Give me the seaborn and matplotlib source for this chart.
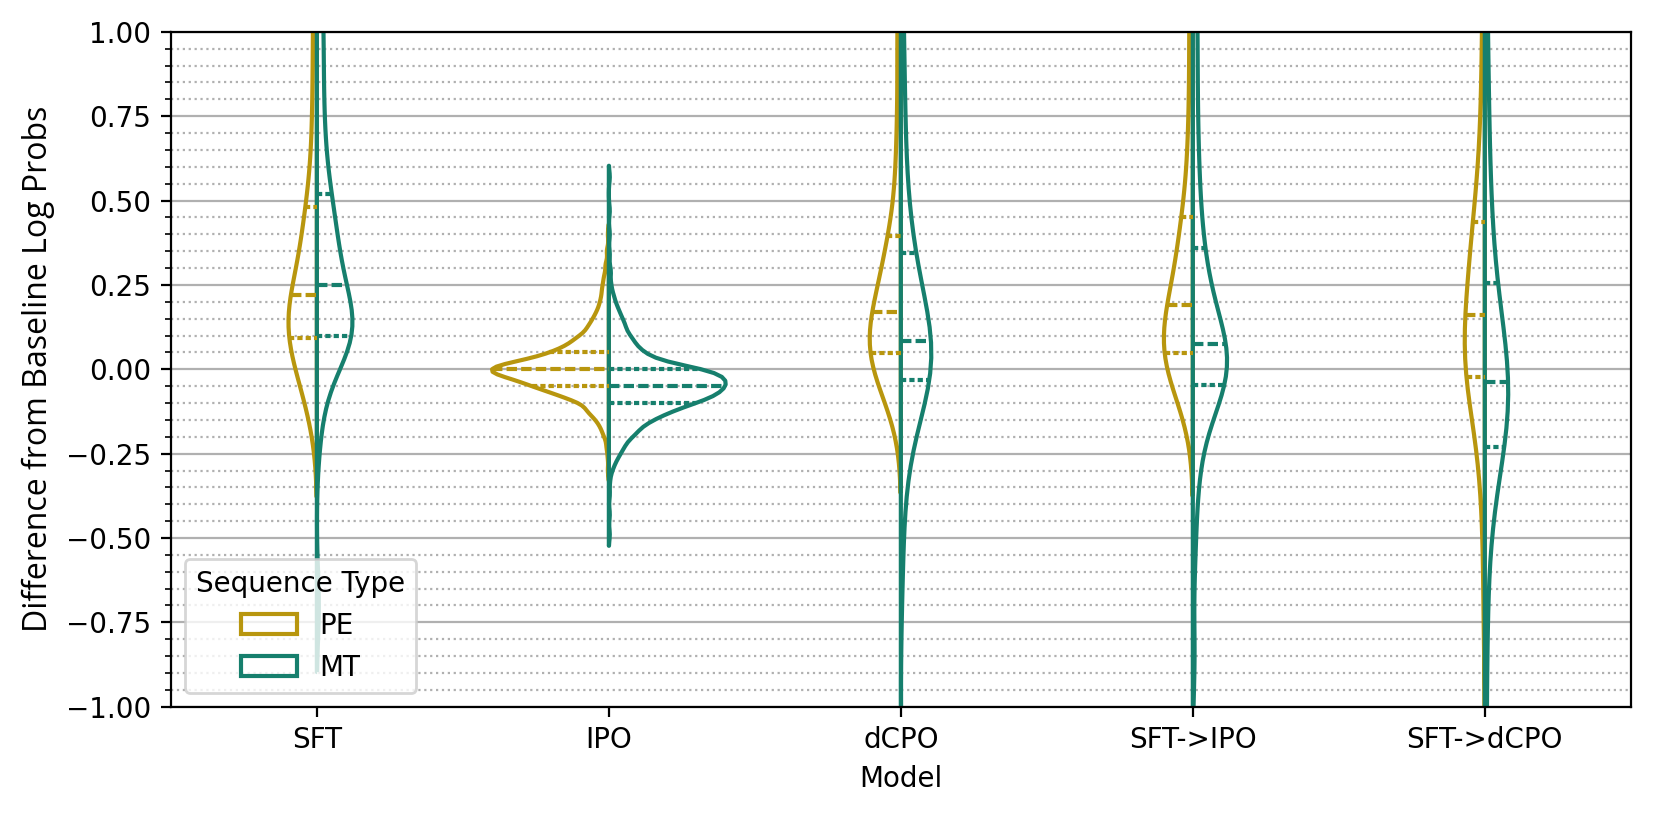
import numpy as np
import pandas as pd
import seaborn as sns
import matplotlib.pyplot as plt
from matplotlib.ticker import MultipleLocator

models = ["SFT", "IPO", "dCPO", "SFT->IPO", "SFT->dCPO"]
seq_types = ["PE", "MT"]
colors = ["#b8960e", "#167f6d"]

# samples (quartiles + tails)
sft_pe = [-0.17, -0.12, -0.08, -0.05, -0.03, -0.012, 0.005, 0.02, 0.035, 0.05, 0.065, 0.08,
          0.095, 0.105, 0.115, 0.125, 0.135, 0.145, 0.155, 0.165, 0.175, 0.19, 0.2, 0.21,
          0.23, 0.245, 0.26, 0.28, 0.3, 0.32, 0.345, 0.37, 0.395, 0.42, 0.445, 0.47,
          0.51, 0.56, 0.62, 0.69, 0.77, 0.86, 0.95, 1.05, 1.15, 1.27, 1.4, 1.58]
sft_mt = [-0.7, -0.2, -0.1, -0.04, -0.005, 0.022, 0.042, 0.056, 0.068, 0.078, 0.087, 0.093,
          0.1, 0.111, 0.122, 0.133, 0.144, 0.156, 0.168, 0.18, 0.194, 0.208, 0.223, 0.238,
          0.262, 0.28, 0.299, 0.318, 0.338, 0.36, 0.383, 0.407, 0.432, 0.457, 0.483, 0.51,
          0.55, 0.59, 0.64, 0.7, 0.76, 0.83, 0.9, 0.97, 1.04, 1.12, 1.21, 1.32]

# IPO is very peaked: binned values with counts
ipo_pe_bins = [-0.30, -0.26, -0.23, -0.20, -0.18, -0.16, -0.14, -0.12,
               -0.10, -0.09, -0.08, -0.07, -0.06, -0.05, -0.04, -0.03, -0.02, -0.01,
               0.00, 0.01, 0.02, 0.03, 0.04, 0.05, 0.06, 0.07, 0.08, 0.09, 0.10,
               0.12, 0.14, 0.16, 0.18, 0.20, 0.22, 0.24, 0.26, 0.28, 0.31, 0.35, 0.40]
ipo_pe_counts = [1, 1, 2, 3, 4, 6, 9, 14,
                 10, 11, 13, 16, 19, 22, 24, 26, 30, 35,
                 36, 34, 27, 22, 19, 16, 14, 12, 10, 9, 12,
                 13, 10, 8, 6, 5, 4, 4, 3, 3, 3, 2, 1]
ipo_mt_bins = [-0.49, -0.43, -0.37, -0.33, -0.30, -0.28, -0.26, -0.24, -0.22,
               -0.20, -0.19, -0.18, -0.17, -0.16, -0.15, -0.14, -0.13, -0.12, -0.11,
               -0.10, -0.09, -0.08, -0.07, -0.06, -0.05, -0.04, -0.03, -0.02, -0.01,
               0.00, 0.01, 0.02, 0.03, 0.04, 0.05, 0.06, 0.07, 0.08, 0.09, 0.10,
               0.12, 0.14, 0.16, 0.18, 0.20, 0.22, 0.25, 0.29, 0.34, 0.40, 0.47, 0.57]
ipo_mt_counts = [1, 1, 1, 1, 2, 3, 5, 7, 9,
                 9, 7, 7, 8, 10, 11, 13, 15, 17, 19,
                 22, 25, 27, 28, 29, 30, 30, 30, 29, 28,
                 26, 19, 14, 11, 10, 9, 8, 7, 6, 6, 8,
                 9, 8, 6, 5, 3, 3, 2, 2, 1, 1, 1, 1]

dcpo_pe = [-0.16, -0.11, -0.08, -0.06, -0.042, -0.028, -0.016, -0.005, 0.006, 0.018, 0.03, 0.038,
           0.05, 0.06, 0.07, 0.08, 0.09, 0.1, 0.11, 0.12, 0.13, 0.14, 0.15, 0.16,
           0.18, 0.195, 0.21, 0.225, 0.24, 0.26, 0.28, 0.3, 0.32, 0.34, 0.36, 0.385,
           0.42, 0.47, 0.53, 0.6, 0.68, 0.78, 0.9, 1.0, 1.12, 1.25, 1.4, 1.6]
dcpo_mt = [-1.3, -0.6, -0.4, -0.3, -0.22, -0.17, -0.13, -0.1, -0.075, -0.058, -0.045, -0.038,
           -0.03, -0.02, -0.01, 0.0, 0.01, 0.02, 0.03, 0.04, 0.05, 0.06, 0.07, 0.078,
           0.09, 0.105, 0.12, 0.14, 0.16, 0.18, 0.2, 0.22, 0.25, 0.28, 0.31, 0.335,
           0.37, 0.42, 0.48, 0.56, 0.65, 0.75, 0.87, 1.0, 1.2, 1.45, 1.85, 2.6]
sft_ipo_pe = [-0.16, -0.11, -0.08, -0.055, -0.037, -0.022, -0.01, 0.0, 0.012, 0.024, 0.034, 0.041,
              0.05, 0.062, 0.074, 0.086, 0.098, 0.11, 0.122, 0.134, 0.146, 0.158, 0.17, 0.182,
              0.2, 0.215, 0.23, 0.25, 0.27, 0.29, 0.315, 0.34, 0.365, 0.39, 0.415, 0.44,
              0.48, 0.53, 0.59, 0.66, 0.74, 0.84, 0.95, 1.05, 1.17, 1.3, 1.45, 1.65]
sft_ipo_mt = [-0.85, -0.55, -0.4, -0.31, -0.24, -0.185, -0.145, -0.115, -0.092, -0.075, -0.062, -0.053,
              -0.043, -0.032, -0.021, -0.01, 0.0, 0.01, 0.02, 0.03, 0.04, 0.05, 0.06, 0.068,
              0.082, 0.097, 0.113, 0.13, 0.15, 0.17, 0.195, 0.22, 0.25, 0.28, 0.31, 0.345,
              0.4, 0.45, 0.51, 0.58, 0.66, 0.75, 0.85, 0.95, 1.05, 1.16, 1.3, 1.45]
sft_dcpo_pe = [-1.4, -0.7, -0.45, -0.33, -0.25, -0.19, -0.14, -0.1, -0.075, -0.055, -0.04, -0.033,
               -0.02, -0.005, 0.01, 0.025, 0.04, 0.055, 0.07, 0.085, 0.1, 0.115, 0.13, 0.145,
               0.175, 0.195, 0.215, 0.24, 0.265, 0.29, 0.315, 0.34, 0.365, 0.39, 0.41, 0.43,
               0.46, 0.51, 0.57, 0.64, 0.72, 0.82, 0.94, 1.08, 1.25, 1.5, 1.85, 2.4]
sft_dcpo_mt = [-2.2, -1.6, -1.2, -0.95, -0.75, -0.6, -0.48, -0.4, -0.34, -0.29, -0.26, -0.245,
               -0.225, -0.205, -0.185, -0.165, -0.145, -0.128, -0.112, -0.097, -0.083, -0.07, -0.058, -0.046,
               -0.03, -0.015, 0.0, 0.018, 0.038, 0.06, 0.085, 0.11, 0.14, 0.17, 0.205, 0.24,
               0.3, 0.35, 0.41, 0.48, 0.56, 0.65, 0.76, 0.88, 1.02, 1.2, 1.5, 2.0]

ipo_pe = np.repeat(ipo_pe_bins, ipo_pe_counts)
ipo_mt = np.repeat(ipo_mt_bins, ipo_mt_counts)

pe_vals = [sft_pe, ipo_pe, dcpo_pe, sft_ipo_pe, sft_dcpo_pe]
mt_vals = [sft_mt, ipo_mt, dcpo_mt, sft_ipo_mt, sft_dcpo_mt]

rows = []
for m, pe, mt in zip(models, pe_vals, mt_vals):
    rows += [(m, "PE", v) for v in pe]
    rows += [(m, "MT", v) for v in mt]
df = pd.DataFrame(rows, columns=["Model", "Sequence Type", "diff"])

fig, ax = plt.subplots(figsize=(8.295, 4.085), dpi=200)
fig.subplots_adjust(left=0.103, right=0.983, bottom=0.135, top=0.961)

sns.violinplot(data=df, x="Model", y="diff",
               hue="Sequence Type", hue_order=seq_types, order=models,
               split=True, fill=False, inner="quart", palette=colors,
               saturation=1, linewidth=1.5, bw_adjust=0.55, ax=ax)

ax.set_ylim(-1, 1)
ax.set_ylabel("Difference from Baseline Log Probs", family="Open Sans", fontsize=11.5)
ax.yaxis.set_major_locator(MultipleLocator(0.25))
ax.yaxis.set_minor_locator(MultipleLocator(0.05))
ax.grid(axis="y", which="major", color="#b0b0b0", linewidth=0.8)
ax.grid(axis="y", which="minor", color="#b0b0b0", linestyle=":", linewidth=0.8)
ax.set_axisbelow(True)
sns.move_legend(ax, "lower left", title="Sequence Type")

fig.savefig("out.png", dpi=200)
